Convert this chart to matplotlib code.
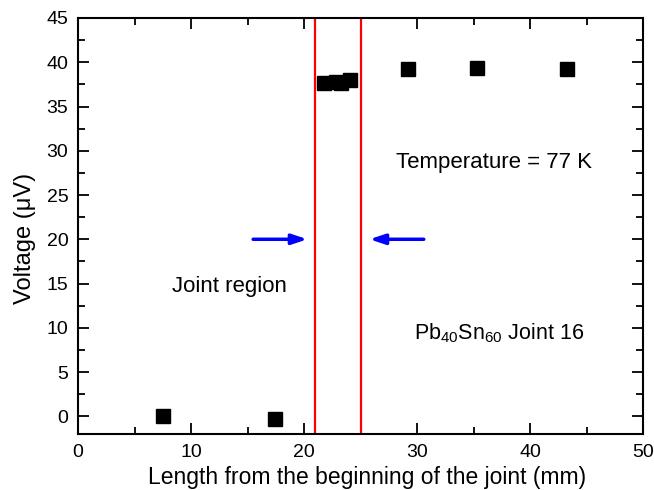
import numpy as np
import matplotlib
matplotlib.use("Agg")
import matplotlib.pyplot as plt
from matplotlib.ticker import MultipleLocator

plt.rcParams['font.family'] = ['Liberation Sans', 'DejaVu Sans']
plt.rcParams['mathtext.fontset'] = 'custom'
plt.rcParams['mathtext.rm'] = 'Liberation Sans'
plt.rcParams['mathtext.it'] = 'Liberation Sans:italic'

# data
length_mm = [7.5, 17.4, 21.8, 22.8, 23.3, 24.1, 29.2, 35.3, 43.3]
voltage_uv = [0.05, -0.3, 37.6, 37.8, 37.7, 38.0, 39.2, 39.4, 39.2]
joint_edges = [21.0, 25.0]
arrow_right = (15.5, 20.3)   # start, end (mm) at 20 uV
arrow_left = (30.6, 25.8)
arrow_level = 20

fig = plt.figure(figsize=(6.54, 4.90), dpi=100)
ax = fig.add_axes([78 / 654, 1 - 434 / 490, (643 - 78) / 654, (434 - 18) / 490])

ax.plot(length_mm, voltage_uv, 's', color='black', markersize=9.5, zorder=3)

for xe in joint_edges:
    ax.axvline(xe, color='red', lw=1.6, zorder=2)

for x0, x1 in (arrow_right, arrow_left):
    ax.annotate('', xy=(x1, arrow_level), xytext=(x0, arrow_level),
                arrowprops=dict(arrowstyle='-|>,head_length=0.9,head_width=0.3',
                                color='blue', lw=2.5, shrinkA=0, shrinkB=0))

ax.text(28.1, 28.0, 'Temperature = 77 K', fontsize=16, va='baseline')
ax.text(8.3, 14.0, 'Joint region', fontsize=16, va='baseline')
ax.text(29.7, 8.7, r'Pb$_{40}$Sn$_{60}$ Joint 16', fontsize=15.5, va='baseline')

ax.set_xlim(0, 50)
ax.set_ylim(-2, 45)
ax.xaxis.set_major_locator(MultipleLocator(10))
ax.xaxis.set_minor_locator(MultipleLocator(5))
ax.yaxis.set_major_locator(MultipleLocator(5))
ax.yaxis.set_minor_locator(MultipleLocator(2.5))
ax.tick_params(which='both', direction='in', top=True, right=True, width=1.3, labelsize=14, pad=7)
ax.tick_params(which='major', length=8)
ax.tick_params(which='minor', length=5)
for sp in ax.spines.values():
    sp.set_linewidth(1.5)

ax.set_xlabel('Length from the beginning of the joint (mm)', fontsize=16.5)
ax.set_ylabel('Voltage (\u03bcV)', fontsize=17)
ax.xaxis.set_label_coords(0.512, -0.077)
ax.yaxis.set_label_coords(-0.075, 0.47)

fig.savefig('out.png', dpi=100)
